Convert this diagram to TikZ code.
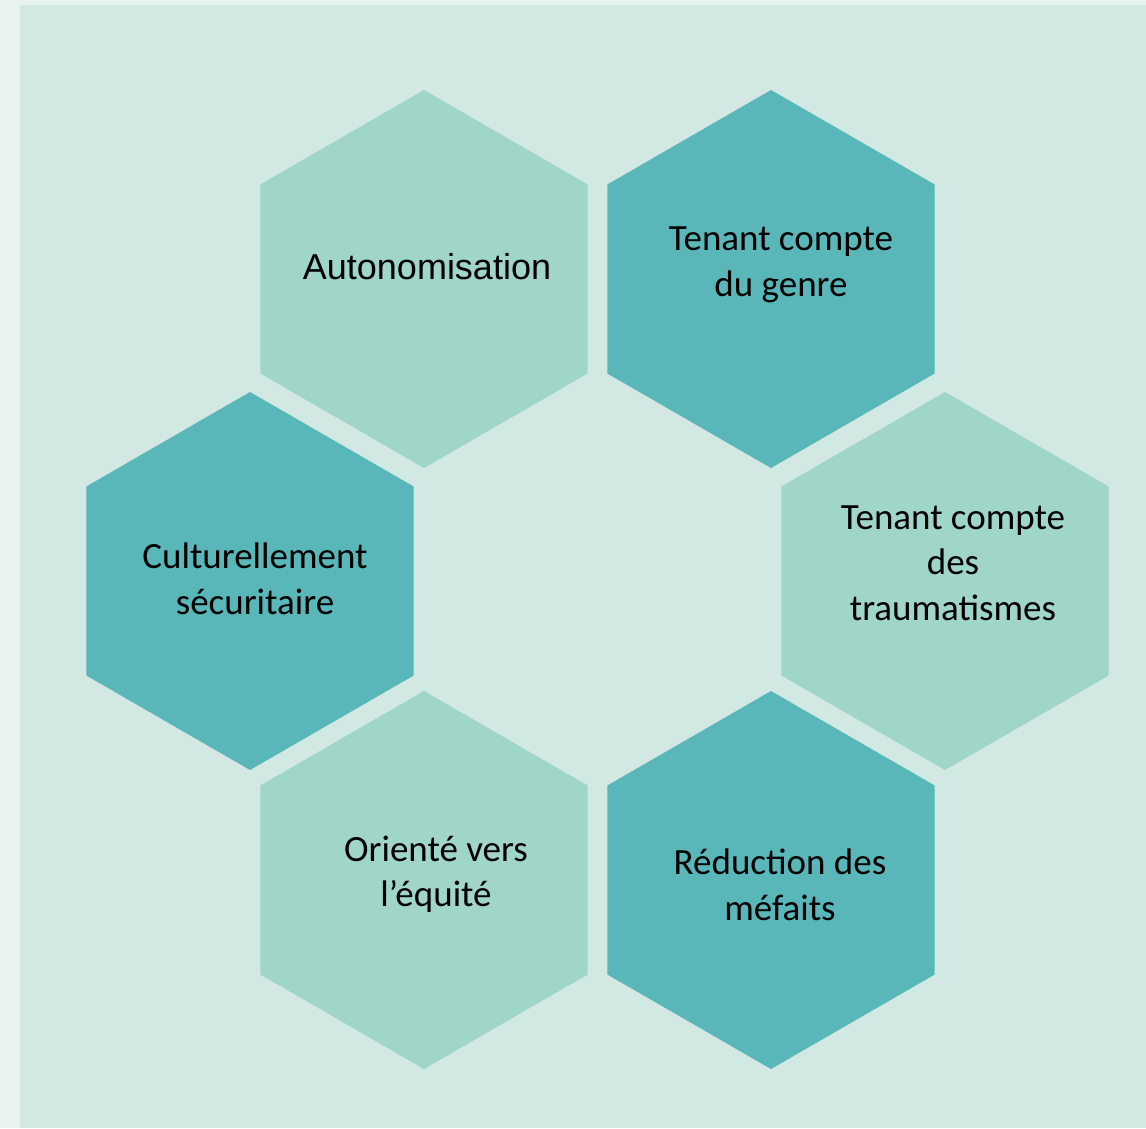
\documentclass[tikz,border=0pt]{standalone}
\usepackage{fontspec}
\setmainfont{Carlito}
\newfontfamily\arialfont{Liberation Sans}
\usetikzlibrary{shapes.geometric}
\definecolor{outerbg}{HTML}{E8F3F1}
\definecolor{mainbg}{HTML}{D2E8E2}
\definecolor{hexlight}{HTML}{A0D5C9}
\definecolor{hexdark}{HTML}{59B7B9}
\tikzset{
  hexbox/.style={regular polygon, regular polygon sides=6, shape border rotate=30,
    minimum size=378pt, inner sep=0pt, outer sep=0pt, draw=none},
  hexL/.style={hexbox, fill=hexlight},
  hexD/.style={hexbox, fill=hexdark},
  lbl/.style={align=center, text=black, inner sep=0pt, font=\fontsize{37}{45.5}\selectfont},
}
\begin{document}
\begin{tikzpicture}[x=1pt,y=-1pt]
\useasboundingbox (0,0) rectangle (1146,1128);
\fill[outerbg] (0,0) rectangle (1146,1128);
\fill[mainbg] (20,5) rectangle (1146,1128);

\node[hexL] (h1) at (424,279) {};
\node[hexD] (h2) at (771,279) {};
\node[hexD] (h3) at (250,581) {};
\node[hexL] (h4) at (945,581) {};
\node[hexL] (h5) at (424,880) {};
\node[hexD] (h6) at (771,880) {};

\node[lbl, font=\arialfont\fontsize{36}{42}\selectfont] (t1) at (427,267) {Autonomisation};
\node[lbl] (t2) at (781,265) {Tenant compte\\du genre};
\node[lbl] (t3) at (255,579) {Culturellement\\sécuritaire};
\node[lbl] (t4) at (953,563) {Tenant compte\\des\\traumatismes};
\node[lbl] (t5) at (436,874) {Orienté vers\\l’équité};
\node[lbl] (t6) at (780,885) {Réduction des\\méfaits};
\end{tikzpicture}
\end{document}
